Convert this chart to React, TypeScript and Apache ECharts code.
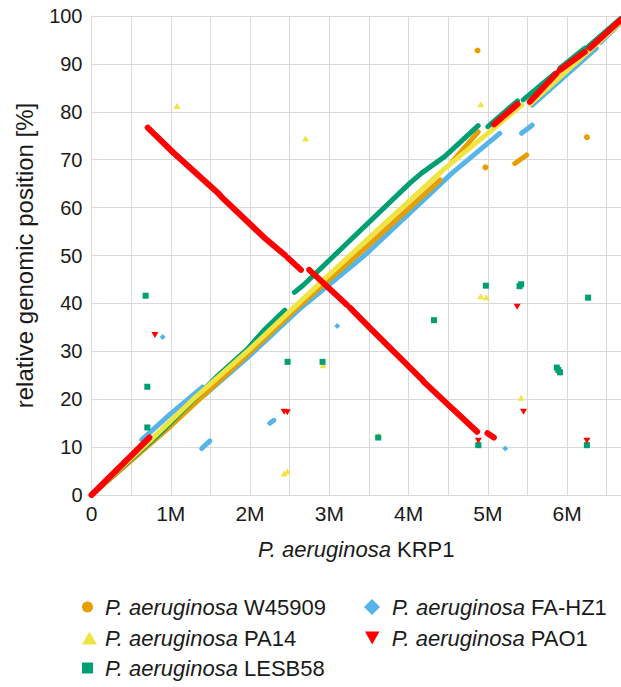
import React, { useEffect, useRef } from "react";
import * as echarts from "echarts";

type Pt = [number, number];

const FONT = '"Liberation Sans", Arial, Helvetica, sans-serif';
const TEXT = "#1a1a1a";
const GRID = "#d9d9d9";

// axis
const X_MAX = 6680000;
const X_TICKS_M = ["0", "1M", "2M", "3M", "4M", "5M", "6M"];

// strain names (series order = legend order)
const STRAINS = ["W45909", "PA14", "LESB58", "FA-HZ1", "PAO1"];
const COLORS = ["#E69F00", "#F0E442", "#009E73", "#56B4E9", "#FF0000"];

// ---- W45909 ----
const W45909_SEGMENTS: Pt[][] = [
  [[0, 0], [1000000, 14.4], [2000000, 29.8], [2608000, 39.3], [3000000, 45.0], [3450000, 51.5], [4400000, 65.8]],
  [[4550000, 69.6], [4880000, 75.8]],
  [[5340000, 69.2], [5490000, 71.0]],
];
const W45909_POINTS: Pt[] = [[4870000, 92.8], [4970000, 68.4], [6250000, 74.7]];

// ---- PA14 ----
const PA14_SEGMENTS: Pt[][] = [
  [[0, 0], [730000, 11.2], [1284000, 20.0], [2000000, 30.5], [2608000, 40.0], [3450000, 52.9], [4458000, 68.2], [5000000, 75.5], [5425000, 81.4]],
  [[5530000, 81.6], [6677000, 98.7]],
];
const PA14_POINTS: Pt[] = [
  [1080000, 81.2], [2700000, 74.4], [2430000, 4.5], [2470000, 4.9], [2920000, 27.1], [3620000, 12.5],
  [4910000, 41.5], [4980000, 41.3], [5420000, 20.3], [4880000, 10.8], [6250000, 10.8], [4910000, 81.6],
];

// ---- LESB58 ----
const LESB58_SEGMENTS: Pt[][] = [
  [[0, 0], [864000, 12.9], [1580000, 24.7], [1957000, 30.3], [2188000, 34.6], [2440000, 38.6]],
  [[2560000, 42.3], [2671000, 43.8], [4016000, 65.1], [4164000, 67.2], [4458000, 70.7], [4878000, 77.1]],
  [[5000000, 76.9], [5374000, 82.3]],
  [[5445000, 82.5], [5845000, 88.0]],
  [[5908000, 89.1], [6223000, 93.3]],
  [[6265000, 93.6], [6677000, 99.5]],
];
const LESB58_POINTS: Pt[] = [
  [683000, 41.6], [704000, 22.6], [704000, 14.1], [2474000, 27.8], [2915000, 27.8], [3617000, 12.0],
  [4320000, 36.5], [4975000, 43.7], [5400000, 43.6], [5420000, 44.0], [6265000, 41.2],
  [5870000, 26.6], [5890000, 26.1], [5910000, 25.6], [4880000, 10.4], [6250000, 10.4],
];

// ---- FA-HZ1 ----
const FAHZ1_SEGMENTS: Pt[][] = [
  [[633000, 11.5], [1000000, 17.0], [1400000, 22.5]],
  [[1420000, 20.8], [1957000, 28.5], [2608000, 38.6], [3450000, 50.1], [4458000, 65.8], [4540000, 67.1], [5150000, 75.5]],
  [[5425000, 75.5], [5560000, 77.2]],
  [[5560000, 81.4], [6370000, 93.3]],
  [[6420000, 94.5], [6677000, 98.6]],
  [[1390000, 9.7], [1494000, 11.3]],
  [[2250000, 15.0], [2300000, 15.6]],
];
const FAHZ1_POINTS: Pt[] = [[898000, 33.0], [3100000, 35.3], [5220000, 9.7]];

// ---- PAO1 ----
const PAO1_SEGMENTS: Pt[][] = [
  [[0, 0], [730000, 12.0]],
  [[709000, 76.7], [1031000, 71.5], [1599000, 63.0], [1642000, 62.2], [2188000, 53.6], [2440000, 50.1]],
  [[2478000, 49.5], [2642000, 47.0]],
  [[2747000, 47.0], [3222000, 39.7]],
  [[3260000, 39.1], [3531000, 34.6], [4164000, 24.2], [4206000, 23.4], [4458000, 19.5], [4865000, 13.2]],
  [[4996000, 12.9], [5076000, 12.0]],
  [[5080000, 77.4], [5374000, 81.6]],
  [[5530000, 82.1], [5866000, 88.0]],
  [[5908000, 88.7], [6223000, 92.5]],
  [[6286000, 93.3], [6677000, 99.2]],
];
const PAO1_POINTS: Pt[] = [
  [800000, 33.4], [2430000, 17.4], [2470000, 17.3], [5370000, 39.3], [5450000, 17.4], [4880000, 11.3], [6250000, 11.3],
];

const INV_TRI = "path://M0,0L10,0L5,9Z";

export default function App() {
  const ref = useRef<HTMLDivElement>(null);
  useEffect(() => {
    if (!ref.current) return;
    const chart = echarts.init(ref.current, null, { renderer: "svg" });

    const segs = [W45909_SEGMENTS, PA14_SEGMENTS, LESB58_SEGMENTS, FAHZ1_SEGMENTS, PAO1_SEGMENTS];
    const pts = [W45909_POINTS, PA14_POINTS, LESB58_POINTS, FAHZ1_POINTS, PAO1_POINTS];
    const symbols = ["circle", "triangle", "rect", "diamond", INV_TRI];
    const symSizes: any[] = [6, [7, 6], 6, 6, [7, 6]];
    const lineZ = [3, 5, 4, 2, 6];
    const lineW = [5, 5, 5, 5, 6];

    const scatterSeries = STRAINS.map((s, i) => ({
      type: "scatter",
      name: s,
      data: pts[i],
      symbol: symbols[i],
      symbolSize: symSizes[i],
      itemStyle: { color: COLORS[i], opacity: 1 },
      z: 10,
      silent: true,
    }));
    const lineSeries: any[] = [];
    STRAINS.forEach((s, i) => {
      segs[i].forEach((data) => {
        lineSeries.push({
          type: "line",
          name: s,
          data,
          z: lineZ[i],
          symbol: "none",
          showSymbol: false,
          lineStyle: { color: COLORS[i], width: lineW[i], cap: "round", join: "round" },
          itemStyle: { color: COLORS[i] },
          silent: true,
        });
      });
    });

    const legendPos = [
      { left: 82, top: 595, w: 11, h: 11, pad: 7 },
      { left: 82, top: 626, w: 15, h: 13, pad: 3 },
      { left: 82, top: 656, w: 11, h: 11, pad: 7 },
      { left: 364, top: 595, w: 16, h: 16, pad: 7 },
      { left: 365, top: 626, w: 15, h: 13, pad: 7 },
    ];
    const legends = STRAINS.map((s, i) => ({
      show: true,
      left: legendPos[i].left,
      top: legendPos[i].top,
      padding: 0,
      itemWidth: legendPos[i].w,
      itemHeight: legendPos[i].h,
      selectedMode: false,
      data: [{ name: s, icon: symbols[i] }],
      formatter: (n: string) => `{i|P. aeruginosa} ${n}`,
      textStyle: {
        fontSize: 22,
        fontFamily: FONT,
        color: TEXT,
        lineHeight: 24,
        rich: {
          i: { fontStyle: "italic", fontSize: 22, fontFamily: FONT, color: TEXT, lineHeight: 24, padding: [0, 0, 0, legendPos[i].pad] },
        },
      },
    }));

    chart.setOption({
      animation: false,
      backgroundColor: "#ffffff",
      grid: { left: 91.5, right: 0, top: 16, bottom: 192, containLabel: false },
      legend: legends,
      xAxis: {
        type: "value",
        min: 0,
        max: X_MAX,
        interval: 500000,
        axisLine: { show: true, lineStyle: { color: GRID, width: 1 } },
        axisTick: { show: false },
        splitLine: { show: true, lineStyle: { color: GRID, width: 1 } },
        axisLabel: {
          fontSize: 21,
          fontFamily: FONT,
          color: TEXT,
          margin: 8,
          showMaxLabel: false,
          formatter: (v: number) => (v % 1000000 === 0 ? X_TICKS_M[v / 1000000] ?? "" : ""),
        },
        name: "{i|P. aeruginosa} KRP1",
        nameLocation: "middle",
        nameGap: 43,
        nameTextStyle: {
          fontSize: 22,
          fontFamily: FONT,
          color: TEXT,
          rich: { i: { fontStyle: "italic", fontSize: 22, fontFamily: FONT, color: TEXT } },
        },
      },
      yAxis: {
        type: "value",
        min: 0,
        max: 100,
        interval: 10,
        axisLine: { show: true, lineStyle: { color: GRID, width: 1 } },
        axisTick: { show: false },
        splitLine: { show: true, lineStyle: { color: GRID, width: 1 } },
        axisLabel: { fontSize: 20, fontFamily: FONT, color: TEXT, margin: 9 },
        name: "relative genomic position [%]",
        nameLocation: "middle",
        nameGap: 55,
        nameTextStyle: { fontSize: 24, fontFamily: FONT, color: TEXT },
      },
      series: [...scatterSeries, ...lineSeries],
    });
    return () => chart.dispose();
  }, []);
  return <div ref={ref} style={{ position: "fixed", left: 0, top: 0, width: 621, height: 687 }} />;
}
